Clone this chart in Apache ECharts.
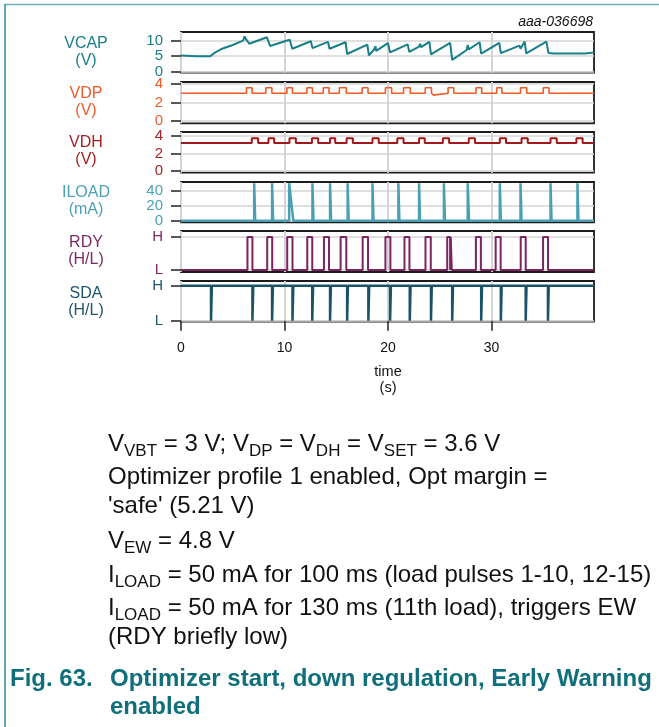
<!DOCTYPE html>
<html>
<head>
<meta charset="utf-8">
<script src="https://cdn.jsdelivr.net/npm/echarts@6/dist/echarts.min.js"></script>
<style>
  html, body { margin: 0; padding: 0; background: #ffffff; }
  #chart { width: 659px; height: 727px; }
</style>
</head>
<body>
<div id="chart"></div>
<script>
// ---- axis ticks ----
const timeTicks = [0, 10, 20, 30];
const vcapTicks = [0, 5, 10];
const voltTicks = [0, 2, 4];
const iloadTicks = [0, 20, 40];
const levelTicks = [0, 1];
const levelNames = ['L', 'H'];

// ---- VCAP trace (time s, volts) ----
const vcapTime = [0, 1.5, 2.8, 3.3, 3.9, 5.0, 6.0, 6.15, 6.3, 6.45, 6.6, 8.3, 8.6, 10.5, 10.75,
  12.55, 12.7, 14.2, 14.35, 15.9, 16.05, 18.0, 18.15, 18.6, 18.8, 18.85, 19.0, 20.0, 20.2,
  21.9, 22.05, 23.0, 23.1, 23.2, 24.0, 24.15, 26.0, 26.2, 27.6, 27.7, 27.8, 28.85, 29.0,
  30.75, 30.9, 32.7, 32.8, 33.2, 33.35, 35.3, 35.5, 36.0, 39.0, 39.05, 39.9];
const vcapVolt = [5.2, 5.0, 4.95, 6.2, 7.3, 8.6, 10.0, 11.4, 10.4, 10.3, 9.0, 11.1, 8.3, 10.3, 7.4,
  9.8, 7.6, 9.6, 7.4, 9.5, 5.7, 8.7, 5.3, 6.9, 8.2, 6.7, 7.0, 9.2, 6.2,
  8.8, 6.4, 8.1, 9.0, 7.9, 9.6, 5.6, 9.3, 3.8, 7.0, 8.6, 7.2, 9.5, 5.8,
  9.3, 6.0, 8.4, 7.4, 9.7, 5.9, 9.7, 6.0, 5.9, 5.9, 6.2, 6.2];

// ---- VDP: regulated level with pulses (s) ----
const vdpLevel = [3.0, 3.6];
const vdpOn  = [6.33, 8.2, 10.23, 12.17, 13.75, 15.3, 17.5, 19.75, 21.5, 23.6, 25.8, 28.5, 30.5, 32.8, 35.0];
const vdpOff = [6.87, 8.78, 10.77, 12.7, 14.3, 15.97, 18.07, 20.35, 22.15, 24.2, 26.35, 29.05, 31.0, 33.4, 35.55];
const vdpDipTime = [0.75, 1.05, 7.6, 19.4, 20.9, 24.4, 32.6, 37.9, 39.1];
const vdpDipLevel = 2.8;

// ---- VDH ----
const vdhLevel = [3.2, 3.75];
const vdhOn  = [6.84, 8.45, 10.48, 12.65, 14.4, 16.0, 18.5, 20.9, 23.0, 25.3, 27.8, 30.8, 32.9, 35.7, 38.2];
const vdhOff = [7.45, 9.0, 11.1, 13.25, 14.9, 16.6, 19.1, 21.5, 23.55, 25.9, 28.4, 31.4, 33.5, 36.3, 38.8];

// ---- ILOAD pulses (s, mA) ----
const iloadLevel = 50;
const iloadRise      = [7.07, 8.8, 10.45, 12.7, 14.4, 16.1, 18.5, 21.0, 23.0, 25.4, 27.7, 30.8, 32.8, 35.7, 38.3];
const iloadFallStart = [7.17, 8.9, 10.45, 12.8, 14.5, 16.2, 18.6, 21.1, 23.1, 25.5, 27.83, 30.9, 32.9, 35.8, 38.4];
const iloadFallEnd   = [7.17, 8.9, 10.85, 12.8, 14.5, 16.2, 18.6, 21.1, 23.1, 25.5, 27.83, 30.9, 32.9, 35.8, 38.4];

// ---- RDY high windows (s) ----
const rdyRise = [6.42, 8.33, 10.26, 12.2, 13.81, 15.42, 17.55, 19.75, 21.59, 23.62, 25.72, 26.06, 28.49, 30.4, 32.82, 34.98];
const rdyFall = [6.9, 8.81, 10.77, 12.68, 14.3, 15.97, 18.07, 20.23, 22.07, 24.13, 26.0, 26.16, 28.97, 30.88, 33.3, 35.46];

// ---- SDA low strobes (s) ----
const sdaLowStart = [2.9, 6.9, 8.8, 10.77, 12.68, 14.4, 16.05, 18.1, 20.2, 22.1, 24.15, 26.2, 29.0, 30.9, 33.3, 35.45];
const sdaLowWidth = 0.08;

const T_MAX = 39.9;
const FONT = '"Liberation Sans", Arial, Helvetica, sans-serif';

// step waveform from edge lists
function stepTrace(on, off, low, high) {
  const pts = [[0, low]];
  for (let i = 0; i < on.length; i++) {
    pts.push([on[i], low], [on[i], high], [off[i], high], [off[i], low]);
  }
  pts.push([T_MAX, low]);
  return pts;
}

function vdpTrace() {
  const events = [];
  for (let i = 0; i < vdpOn.length; i++) {
    events.push({ t: vdpOn[i], pts: [[vdpOn[i], vdpLevel[0]], [vdpOn[i], vdpLevel[1]], [vdpOff[i], vdpLevel[1]], [vdpOff[i], vdpLevel[0]]] });
  }
  vdpDipTime.forEach(t => {
    events.push({ t: t, pts: [[t - 0.05, vdpLevel[0]], [t, vdpDipLevel], [t + 0.05, vdpLevel[0]]] });
  });
  events.sort((a, b) => a.t - b.t);
  const pts = [[0, vdpLevel[0]]];
  events.forEach(e => pts.push(...e.pts));
  pts.push([T_MAX, vdpLevel[0]]);
  return pts;
}

function iloadTrace() {
  const pts = [[0, 0]];
  for (let i = 0; i < iloadRise.length; i++) {
    pts.push([iloadRise[i], 0], [iloadRise[i], iloadLevel], [iloadFallStart[i], iloadLevel], [iloadFallEnd[i], 0]);
  }
  pts.push([T_MAX, 0]);
  return pts;
}

function sdaTrace() {
  const pts = [[0, 1]];
  sdaLowStart.forEach(t => {
    pts.push([t, 1], [t, 0], [t + sdaLowWidth, 0], [t + sdaLowWidth, 1]);
  });
  pts.push([T_MAX, 1]);
  return pts;
}

const panels = [
  { name: 'VCAP\n(V)', color: '#177f89', labelColor: '#1a7d87', top: 32, height: 40.6, min: -0.3, max: 12.8, ticks: vcapTicks, width: 2,
    data: vcapTime.map((t, i) => [t, vcapVolt[i]]), nameY: 52.5 },
  { name: 'VDP\n(V)', color: '#f05a24', labelColor: '#ef5b2a', top: 82, height: 41.3, min: -0.25, max: 4.22, ticks: voltTicks, width: 1.6,
    data: vdpTrace(), nameY: 102.5 },
  { name: 'VDH\n(V)', color: '#a3181c', labelColor: '#a81e22', top: 132, height: 40.7, min: -0.2, max: 4.45, ticks: voltTicks, width: 2,
    data: stepTrace(vdhOn, vdhOff, vdhLevel[0], vdhLevel[1]), nameY: 151.5 },
  { name: 'ILOAD\n(mA)', color: '#4a9fb2', labelColor: '#4aa2b4', top: 182, height: 40.3, min: -2.1, max: 51.6, ticks: iloadTicks, width: 2.5,
    data: iloadTrace(), nameY: 201.5 },
  { name: 'RDY\n(H/L)', color: '#7b2462', labelColor: '#7a2a62', top: 231, height: 41, min: -0.06, max: 1.18, ticks: levelTicks, width: 2,
    data: stepTrace(rdyRise, rdyFall, 0, 1), nameY: 251, level: true },
  { name: 'SDA\n(H/L)', color: '#1b5366', labelColor: '#1f5568', top: 281, height: 40.7, min: -0.03, max: 1.14, ticks: levelTicks, width: 2.5,
    data: sdaTrace(), nameY: 302, level: true }
];

const grid = [], xAxis = [], yAxis = [], series = [], graphic = [];
panels.forEach((p, i) => {
  const last = i === panels.length - 1;
  grid.push({ left: 181, width: 413, top: p.top, height: p.height, show: true,
    borderColor: '#1c1c1c', borderWidth: 1.8, backgroundColor: 'transparent' });
  xAxis.push({
    type: 'value', gridIndex: i, min: 0, max: T_MAX, interval: 10,
    axisLine: { show: false },
    axisTick: { show: last, length: 10, customValues: timeTicks, lineStyle: { color: '#222', width: 1.5 } },
    axisLabel: { show: last, margin: 19, fontSize: 14, color: '#111', fontFamily: FONT,
      customValues: timeTicks },
    splitLine: { show: true, lineStyle: { color: '#d4d4d4', width: 2 } }
  });
  yAxis.push({
    type: 'value', gridIndex: i, min: p.min, max: p.max,
    axisLine: { show: false },
    axisTick: { show: true, length: 10, customValues: p.ticks, lineStyle: { color: '#222', width: 1.5 } },
    axisLabel: { margin: 18, fontSize: 15, color: p.labelColor, fontFamily: FONT,
      customValues: p.ticks,
      formatter: p.level ? (v => levelNames[Math.round(v)]) : (v => String(v)) },
    splitLine: { show: true, lineStyle: { color: '#d4d4d4', width: 1.5 } }
  });
  series.push({
    type: 'line', xAxisIndex: i, yAxisIndex: i, data: p.data,
    showSymbol: false, symbol: 'none', animation: false,
    lineStyle: { color: p.color, width: p.width }
  });
  graphic.push({
    type: 'text', x: 86, y: p.nameY,
    style: { text: p.name, fill: p.labelColor, font: '16px ' + FONT, lineHeight: 17,
      align: 'center', textAlign: 'center', verticalAlign: 'middle', textVerticalAlign: 'middle' }
  });
});

// frame lines of the figure box
graphic.push({ type: 'line', shape: { x1: 5, y1: 4.5, x2: 659, y2: 4.5 }, style: { stroke: '#6fb1b8', lineWidth: 1.5 } });
graphic.push({ type: 'line', shape: { x1: 5, y1: 4, x2: 5, y2: 727 }, style: { stroke: '#2c8a93', lineWidth: 1.5 } });

// figure id
graphic.push({ type: 'text', x: 593, y: 22,
  style: { text: 'aaa-036698', fill: '#111', font: 'italic 14px ' + FONT,
    align: 'right', textAlign: 'right', verticalAlign: 'middle', textVerticalAlign: 'middle' } });

// time axis title
graphic.push({ type: 'text', x: 388, y: 380,
  style: { text: 'time\n(s)', fill: '#111', font: '14.5px ' + FONT, lineHeight: 16,
    align: 'center', textAlign: 'center', verticalAlign: 'middle', textVerticalAlign: 'middle' } });

// conditions text
const noteRich = {
  n: { fontSize: 24, fontFamily: FONT, fill: '#111', color: '#111', lineHeight: 32, verticalAlign: 'middle' },
  s: { fontSize: 17, fontFamily: FONT, fill: '#111', color: '#111', lineHeight: 17, verticalAlign: 'bottom' }
};
const notes = [
  ['{n|V}{s|VBT}{n| = 3 V; V}{s|DP}{n| = V}{s|DH}{n| = V}{s|SET}{n| = 3.6 V}', 444],
  ['{n|Optimizer profile 1 enabled, Opt margin =}', 477],
  ["{n|'safe' (5.21 V)}", 506],
  ['{n|V}{s|EW}{n| = 4.8 V}', 541],
  ['{n|I}{s|LOAD}{n| = 50 mA for 100 ms (load pulses 1-10, 12-15)}', 575],
  ['{n|I}{s|LOAD}{n| = 50 mA for 130 ms (11th load), triggers EW}', 608],
  ['{n|(RDY briefly low)}', 637]
];
notes.forEach(([txt, y]) => {
  graphic.push({ type: 'text', x: 108, y: y,
    style: { text: txt, rich: noteRich, fill: '#111', font: '24px ' + FONT,
      align: 'left', textAlign: 'left', verticalAlign: 'middle', textVerticalAlign: 'middle' } });
});

// caption
const capStyle = { fill: '#0f6f7b', font: 'bold 24px ' + FONT, align: 'left', textAlign: 'left',
  verticalAlign: 'middle', textVerticalAlign: 'middle' };
graphic.push({ type: 'text', x: 10, y: 679, style: Object.assign({ text: 'Fig. 63.' }, capStyle) });
graphic.push({ type: 'text', x: 110, y: 679, style: Object.assign({ text: 'Optimizer start, down regulation, Early Warning' }, capStyle) });
graphic.push({ type: 'text', x: 110, y: 707, style: Object.assign({ text: 'enabled' }, capStyle) });

const chart = echarts.init(document.getElementById('chart'), null, { renderer: 'canvas' });
chart.setOption({
  animation: false,
  backgroundColor: '#ffffff',
  grid, xAxis, yAxis, series, graphic
});
</script>
</body>
</html>
